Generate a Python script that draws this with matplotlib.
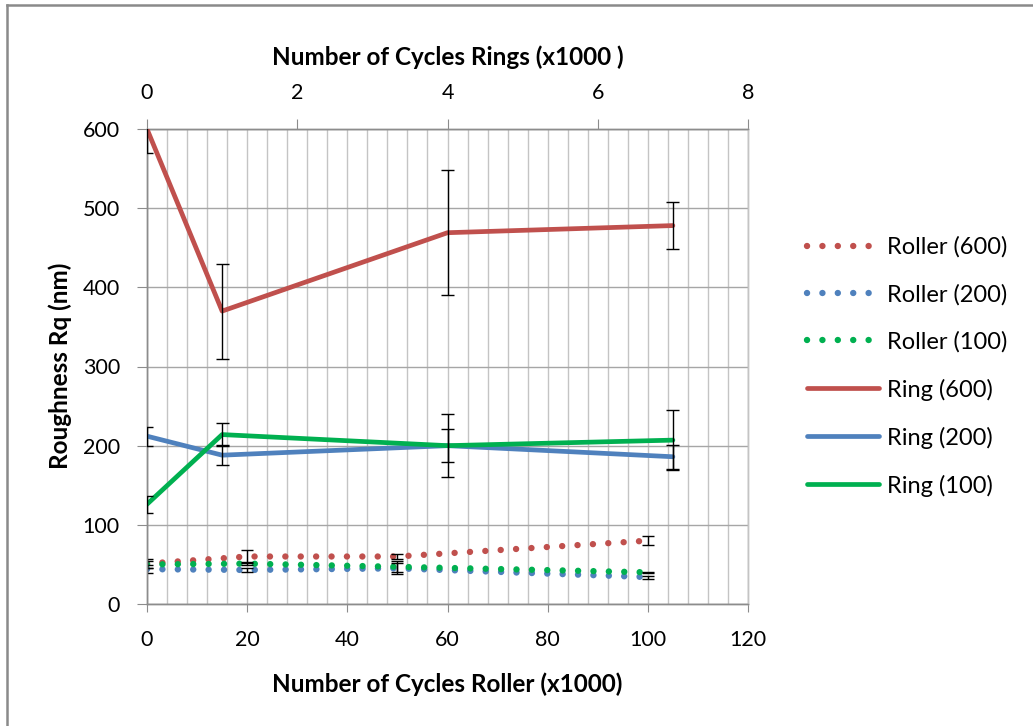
import matplotlib
matplotlib.use("Agg")
import matplotlib.pyplot as plt
from matplotlib.lines import Line2D

plt.rcParams['font.family'] = ['Lato', 'DejaVu Sans']

# Roller measurements (bottom axis, x1000 cycles)
roller_x = [0, 20, 50, 100]
roller_600 = [51, 60, 60, 80]
roller_600_err = [6, 8, 3, 6]
roller_200 = [44, 43, 45, 34]
roller_200_err = [5, 3, 7, 2]
roller_100 = [50, 51, 47, 40]
roller_100_err = [4, 2, 7, 1]

# Ring measurements (top axis, x1000 cycles)
ring_x = [0, 1, 4, 7]
ring_600 = [600, 370, 469, 478]
ring_600_err = [30, 60, 79, 30]
ring_200 = [212, 188, 200, 186]
ring_200_err = [12, 13, 40, 15]
ring_100 = [126, 214, 200, 207]
ring_100_err = [11, 15, 21, 38]

bottom_ticks = [0, 20, 40, 60, 80, 100, 120]
top_ticks = [0, 2, 4, 6, 8]
y_ticks = [0, 100, 200, 300, 400, 500, 600]

RED = '#C0504D'
BLUE = '#4F81BD'
GREEN = '#00B050'
GRID_V = '#C4C4C4'
GRID_H = '#A6A6A6'
AXIS_C = '#8C8C8C'

W, H = 1033, 726
fig = plt.figure(figsize=(W / 100, H / 100), dpi=100)
fig.patch.set_facecolor('white')

# outer chart border (left and top edges visible)
fig.add_artist(Line2D([7 / W, 7 / W], [0, 1 - 5 / H], color='#8A8A8A', lw=1.8,
                      transform=fig.transFigure))
fig.add_artist(Line2D([7 / W, 1], [1 - 5 / H, 1 - 5 / H], color='#8A8A8A', lw=1.8,
                      transform=fig.transFigure))

left, right, top, bottom = 147, 748, 129, 604
ax = fig.add_axes([left / W, (H - bottom) / H, (right - left) / W, (bottom - top) / H])
ax2 = ax.twiny()

ax.set_xlim(0, 120)
ax.set_ylim(0, 600)
ax2.set_xlim(0, 8)

ax.set_xticks(bottom_ticks)
ax.set_xticks(range(0, 121, 4), minor=True)
ax.set_yticks(y_ticks)
ax2.set_xticks(top_ticks)

ax.grid(True, axis='x', which='both', color=GRID_V, lw=1.0)
ax.grid(True, axis='y', which='major', color=GRID_H, lw=1.0)
ax.set_axisbelow(True)

for a in (ax, ax2):
    for s in a.spines.values():
        s.set_color(AXIS_C)
        s.set_linewidth(1.0)
ax.spines['right'].set_color(GRID_V)
ax2.spines['right'].set_color(GRID_V)

TICK_FS = 15.5
ax.tick_params(axis='x', which='minor', length=0)
ax.tick_params(axis='x', which='major', direction='out', length=6, color=AXIS_C,
               labelsize=TICK_FS, pad=13)
ax.tick_params(axis='y', direction='out', length=7, color=AXIS_C,
               labelsize=TICK_FS, pad=12.5)
ax2.tick_params(axis='x', direction='out', length=7, color=AXIS_C,
                labelsize=TICK_FS, pad=12)

label_font = dict(fontsize=17.5, fontweight='bold')
ax.set_xlabel('Number of Cycles Roller (x1000)', labelpad=15.5, **label_font)
ax2.set_xlabel('Number of Cycles Rings (x1000 )', labelpad=12.5, **label_font)
# y-axis title placed at a fixed spot beside the tick labels
fig.text(60 / W, 1 - 366 / H, 'Roughness Rq (nm)', rotation=90,
         ha='center', va='center', **label_font)

dots = (0, (0.01, 2.4))
bar_kw = dict(fmt='none', ecolor='black', elinewidth=1.0, capsize=0)


def draw_errors(a, x, y, err, cap_half):
    a.errorbar(x, y, yerr=err, zorder=4, **bar_kw)
    lows = [v - e for v, e in zip(y, err)]
    highs = [v + e for v, e in zip(y, err)]
    for ends in (lows, highs):
        a.hlines(ends, [xi - cap_half for xi in x], [xi + cap_half for xi in x],
                 colors='black', lw=1.0, zorder=4, clip_on=True)


handles = []
for y, e, c, name in [(roller_600, roller_600_err, RED, 'Roller (600)'),
                      (roller_200, roller_200_err, BLUE, 'Roller (200)'),
                      (roller_100, roller_100_err, GREEN, 'Roller (100)')]:
    ln, = ax.plot(roller_x, y, color=c, lw=4.6, linestyle=dots,
                  dash_capstyle='round', label=name, zorder=3)
    draw_errors(ax, roller_x, y, e, 1.2)
    handles.append(ln)

for y, e, c, name in [(ring_600, ring_600_err, RED, 'Ring (600)'),
                      (ring_200, ring_200_err, BLUE, 'Ring (200)'),
                      (ring_100, ring_100_err, GREEN, 'Ring (100)')]:
    ln, = ax2.plot(ring_x, y, color=c, lw=3.4, solid_capstyle='round',
                   label=name, zorder=3)
    draw_errors(ax2, ring_x, y, e, 0.085)
    handles.append(ln)

leg = fig.legend(handles=handles, loc='upper left',
                 bbox_to_anchor=(798 / W, 1 - 227 / H), frameon=False,
                 fontsize=17, handlelength=3.05, handletextpad=0.3,
                 labelspacing=1.095, borderaxespad=0)

fig.savefig('out.png', dpi=100, facecolor='white')
